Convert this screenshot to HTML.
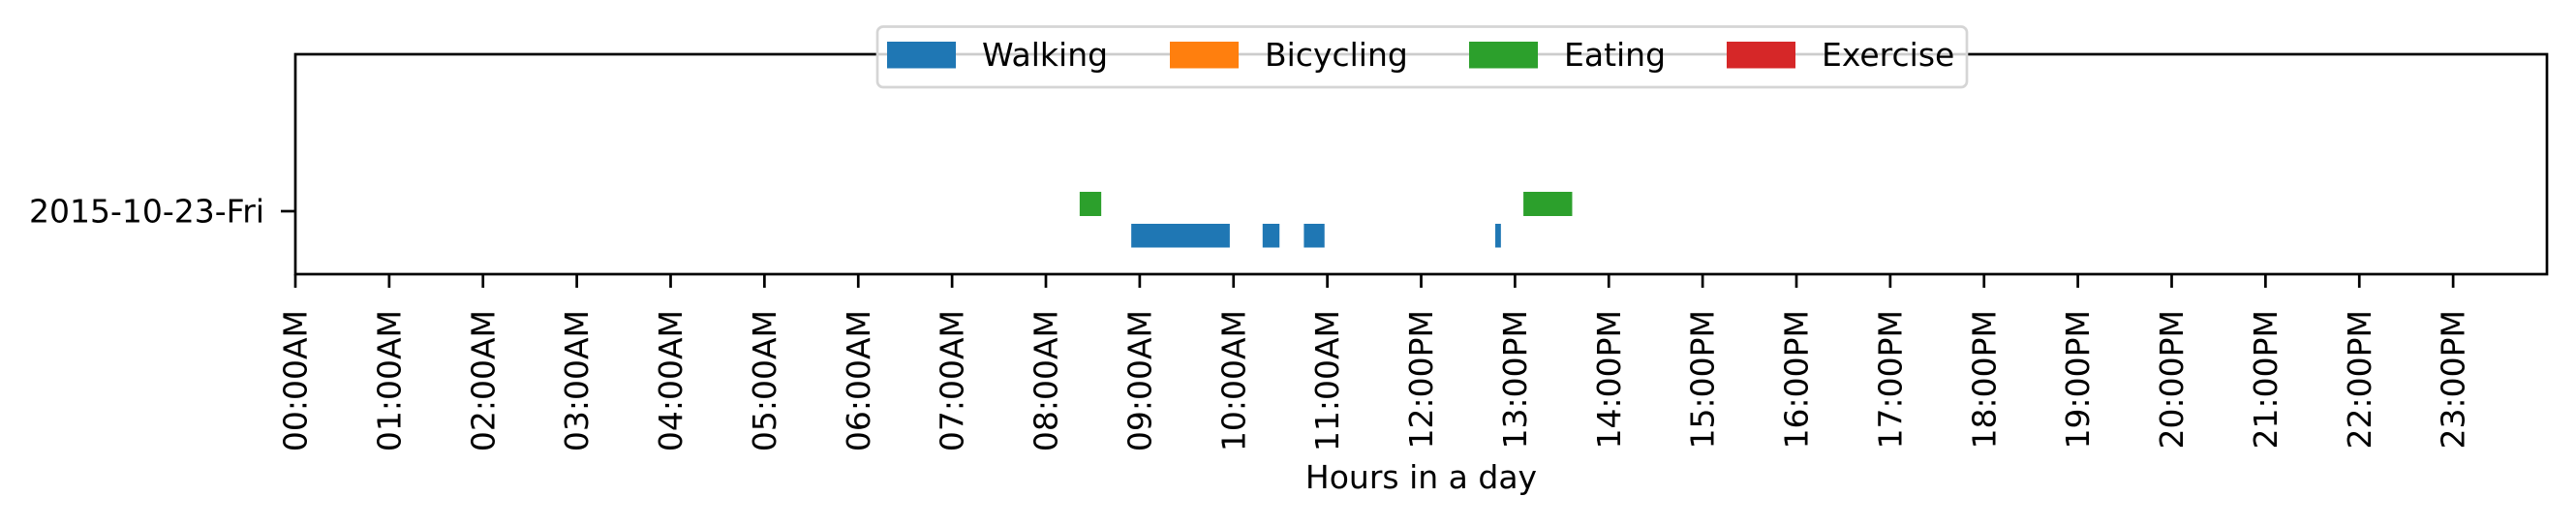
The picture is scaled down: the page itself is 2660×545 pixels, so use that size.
<!DOCTYPE html>
<html><head><meta charset="utf-8"><style>
html,body{margin:0;padding:0;background:#fff}
svg text{font-family:"DejaVu Sans","Liberation Sans",sans-serif;font-size:33px;fill:#000}
</style></head><body>
<svg id="chart" width="2660" height="540" viewBox="0 0 2660 540" xmlns="http://www.w3.org/2000/svg">
<rect width="2660" height="540" fill="#fff"/>
<g id="marks"></g>
<g id="axes"></g>
<g id="legend"></g>
</svg>
<script>
const categories = ["Walking","Bicycling","Eating","Exercise"];
const colors = ["#1f77b4","#ff7f0e","#2ca02c","#d62728"];
const tickHours = [0,1,2,3,4,5,6,7,8,9,10,11,12,13,14,15,16,17,18,19,20,21,22,23];
const tickLabels = ["00:00AM","01:00AM","02:00AM","03:00AM","04:00AM","05:00AM","06:00AM","07:00AM","08:00AM","09:00AM","10:00AM","11:00AM","12:00PM","13:00PM","14:00PM","15:00PM","16:00PM","17:00PM","18:00PM","19:00PM","20:00PM","21:00PM","22:00PM","23:00PM"];
const walkingStart = [8.91,10.31,10.75,12.79];
const walkingEnd   = [9.96,10.49,10.97,12.85];
const eatingStart  = [8.36,13.09];
const eatingEnd    = [8.59,13.61];
const dayLabel = "2015-10-23-Fri";

const NS="http://www.w3.org/2000/svg";
const L=305,R=2630,T=56,B=283;
const xs=h=>L+(R-L)*h/24;
function mk(tag,attrs,parent){const e=document.createElementNS(NS,tag);for(const k in attrs)e.setAttribute(k,attrs[k]);parent.appendChild(e);return e;}
const marks=document.getElementById('marks'),axes=document.getElementById('axes'),leg=document.getElementById('legend');

walkingStart.forEach((s,i)=>{const r=mk('rect',{x:xs(s),y:231,width:xs(walkingEnd[i])-xs(s),height:24.5,fill:colors[0]},marks);

});
eatingStart.forEach((s,i)=>{const r=mk('rect',{x:xs(s),y:198,width:xs(eatingEnd[i])-xs(s),height:25,fill:colors[2]},marks);

});

const frame=mk('rect',{x:L,y:T,width:R-L,height:B-T,fill:'none',stroke:'#000','stroke-width':2.7},axes);


tickHours.forEach((h,i)=>{const x=xs(h);
const t=mk('line',{x1:x,y1:B,x2:x,y2:297,stroke:'#000','stroke-width':2.7},axes);


const tx=mk('text',{x:x,y:320,'text-anchor':'end','dominant-baseline':'central',transform:`rotate(-90 ${x} 320)`},axes);


tx.textContent=tickLabels[i];});
const yt=mk('line',{x1:290,y1:218,x2:L,y2:218,stroke:'#000','stroke-width':2.7},axes);


const yl=mk('text',{x:273,y:218,'text-anchor':'end','dominant-baseline':'central'},axes);


yl.textContent=dayLabel;
const xl=mk('text',{x:(L+R)/2,y:504,'text-anchor':'middle'},axes);


xl.textContent="Hours in a day";

const box=mk('rect',{x:906,y:27.5,width:1125,height:62.5,rx:6,fill:'#fff','fill-opacity':0.8,stroke:'#d5d5d5','stroke-width':2.7},leg);


const patchX=[916,1208,1517,1783];
categories.forEach((c,i)=>{
const p=mk('rect',{x:patchX[i],y:43,width:71,height:27.5,fill:colors[i]},leg);


const t=mk('text',{x:patchX[i]+98,y:68},leg);


t.textContent=c;});
</script>
</body></html>
